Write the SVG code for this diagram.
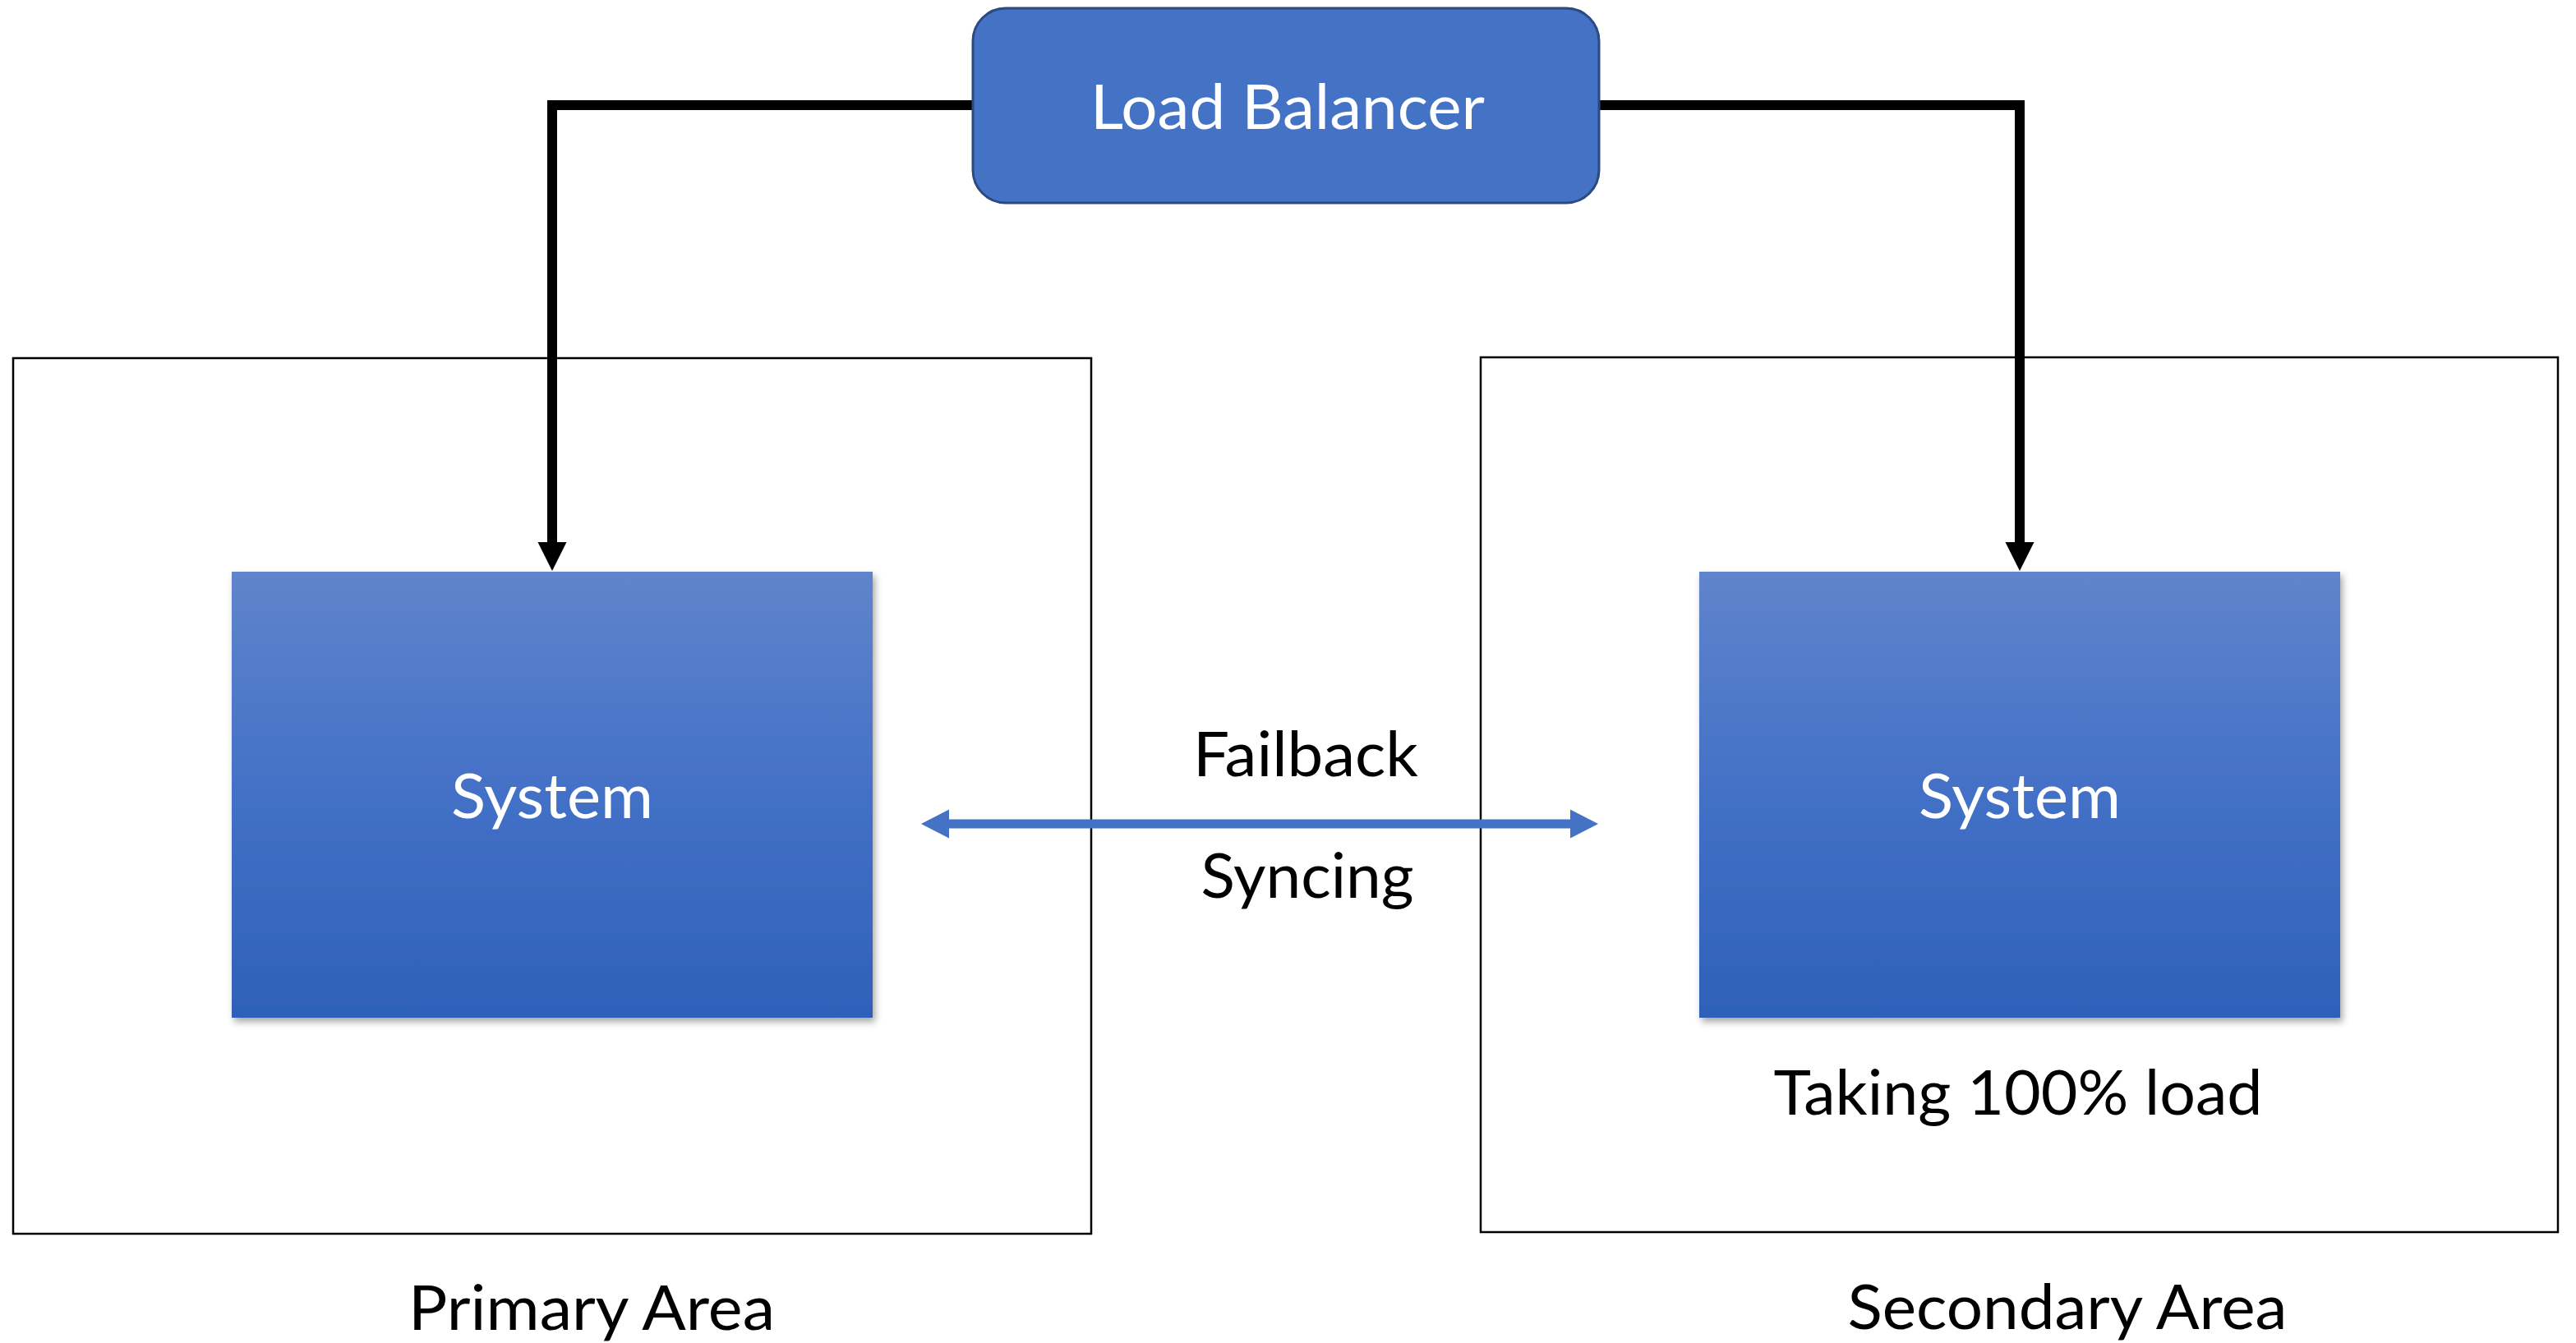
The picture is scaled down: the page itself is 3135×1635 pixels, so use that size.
<svg xmlns="http://www.w3.org/2000/svg" width="3135" height="1635" viewBox="0 0 3135 1635">
  <style>
    .area { fill: #ffffff; stroke: #000000; stroke-width: 2.5; }
    .lb { fill: #4472C4; stroke: #2A4A80; stroke-width: 3; }
    .sys { fill: url(#sysFill); filter: url(#sysShadow); }
    .wire { fill: none; stroke: #000000; stroke-width: 12; stroke-linejoin: miter; }
    .sync { fill: none; stroke: #4472C4; stroke-width: 11; }
    .t { font-family: Lato, "Open Sans", "Liberation Sans", sans-serif; font-size: 76px; text-anchor: middle; }
    .dark { fill: #000000; }
    .light { fill: #ffffff; }
  </style>
  <defs>
    <linearGradient id="sysFill" x1="0" y1="0" x2="0" y2="1">
      <stop offset="0" stop-color="#6084CC"/>
      <stop offset="0.5" stop-color="#4370C6"/>
      <stop offset="1" stop-color="#2E61B9"/>
    </linearGradient>
    <filter id="sysShadow" x="-5%" y="-5%" width="112%" height="115%">
      <feDropShadow dx="3" dy="5" stdDeviation="4" flood-color="#000000" flood-opacity="0.35"/>
    </filter>
    <marker id="headBlack" viewBox="0 -18 36 36" markerUnits="userSpaceOnUse" markerWidth="36" markerHeight="36" refX="1" refY="0" orient="auto">
      <path d="M0,-17.5 L35,0 L0,17.5 Z" fill="#000000"/>
    </marker>
    <marker id="headBlue" viewBox="0 -18 36 36" markerUnits="userSpaceOnUse" markerWidth="36" markerHeight="36" refX="1" refY="0" orient="auto-start-reverse">
      <path d="M0,-17.5 L34,0 L0,17.5 Z" fill="#4472C4"/>
    </marker>
  </defs>

  <rect width="3135" height="1635" fill="#ffffff"/>

  <!-- site areas -->
  <g id="primary-area">
    <rect class="area" x="16" y="436" width="1312" height="1066"/>
    <text class="t dark" x="720" y="1619" textLength="446" lengthAdjust="spacingAndGlyphs">Primary Area</text>
  </g>
  <g id="secondary-area">
    <rect class="area" x="1802" y="435" width="1311" height="1065"/>
    <text class="t dark" x="2516" y="1618" textLength="535" lengthAdjust="spacingAndGlyphs">Secondary Area</text>
  </g>

  <!-- connectors -->
  <g id="connectors">
    <polyline class="wire" points="1184,128 672,128 672,661" marker-end="url(#headBlack)"/>
    <polyline class="wire" points="1946,128 2458,128 2458,661" marker-end="url(#headBlack)"/>
    <line class="sync" x1="1154" y1="1003" x2="1912" y2="1003" marker-start="url(#headBlue)" marker-end="url(#headBlue)"/>
    <text class="t dark" x="1589" y="945" textLength="274" lengthAdjust="spacingAndGlyphs">Failback</text>
    <text class="t dark" x="1591" y="1093" textLength="259" lengthAdjust="spacingAndGlyphs">Syncing</text>
  </g>

  <!-- nodes -->
  <g id="load-balancer">
    <rect class="lb" x="1184" y="10" width="762" height="237" rx="40" ry="40"/>
    <text class="t light" x="1567" y="157" textLength="480" lengthAdjust="spacingAndGlyphs">Load Balancer</text>
  </g>
  <g id="system-primary">
    <rect class="sys" x="282" y="696" width="780" height="543"/>
    <text class="t light" x="672" y="996" textLength="246" lengthAdjust="spacingAndGlyphs">System</text>
  </g>
  <g id="system-secondary">
    <rect class="sys" x="2068" y="696" width="780" height="543"/>
    <text class="t light" x="2458" y="996" textLength="246" lengthAdjust="spacingAndGlyphs">System</text>
    <text class="t dark" x="2456" y="1357" textLength="595" lengthAdjust="spacingAndGlyphs">Taking 100% load</text>
  </g>
</svg>
